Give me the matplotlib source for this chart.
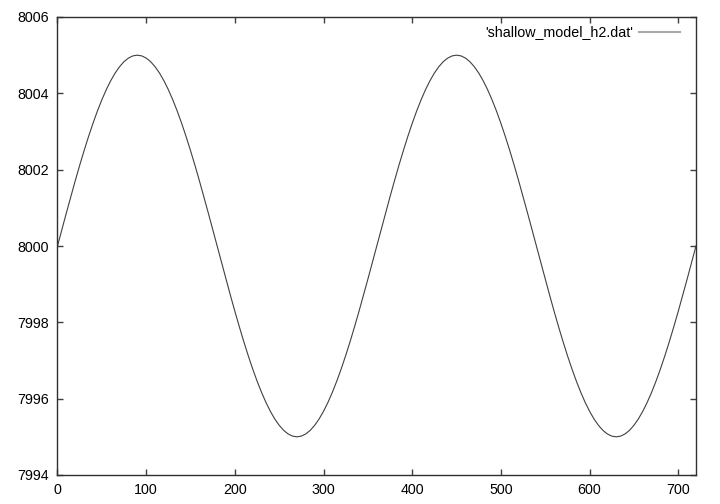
import matplotlib
matplotlib.use("Agg")
import matplotlib.pyplot as plt

# x in degrees, step 5
x = list(range(0, 725, 5))
y = [
    8000.000, 8000.436, 8000.868, 8001.294, 8001.710, 8002.113, 8002.500, 8002.868, 8003.214, 8003.536,
    8003.830, 8004.096, 8004.330, 8004.532, 8004.698, 8004.830, 8004.924, 8004.981, 8005.000,
    8004.981, 8004.924, 8004.830, 8004.698, 8004.532, 8004.330, 8004.096, 8003.830, 8003.536, 8003.214,
    8002.868, 8002.500, 8002.113, 8001.710, 8001.294, 8000.868, 8000.436, 8000.000,
    7999.564, 7999.132, 7998.706, 7998.290, 7997.887, 7997.500, 7997.132, 7996.786, 7996.464,
    7996.170, 7995.904, 7995.670, 7995.468, 7995.302, 7995.170, 7995.076, 7995.019, 7995.000,
    7995.019, 7995.076, 7995.170, 7995.302, 7995.468, 7995.670, 7995.904, 7996.170, 7996.464,
    7996.786, 7997.132, 7997.500, 7997.887, 7998.290, 7998.706, 7999.132, 7999.564, 8000.000,
    8000.436, 8000.868, 8001.294, 8001.710, 8002.113, 8002.500, 8002.868, 8003.214, 8003.536,
    8003.830, 8004.096, 8004.330, 8004.532, 8004.698, 8004.830, 8004.924, 8004.981, 8005.000,
    8004.981, 8004.924, 8004.830, 8004.698, 8004.532, 8004.330, 8004.096, 8003.830, 8003.536, 8003.214,
    8002.868, 8002.500, 8002.113, 8001.710, 8001.294, 8000.868, 8000.436, 8000.000,
    7999.564, 7999.132, 7998.706, 7998.290, 7997.887, 7997.500, 7997.132, 7996.786, 7996.464,
    7996.170, 7995.904, 7995.670, 7995.468, 7995.302, 7995.170, 7995.076, 7995.019, 7995.000,
    7995.019, 7995.076, 7995.170, 7995.302, 7995.468, 7995.670, 7995.904, 7996.170, 7996.464,
    7996.786, 7997.132, 7997.500, 7997.887, 7998.290, 7998.706, 7999.132, 7999.564, 8000.000,
]
label = "'shallow_model_h2.dat'"
xticks = [0, 100, 200, 300, 400, 500, 600, 700]
yticks = [7994, 7996, 7998, 8000, 8002, 8004, 8006]

plt.rcParams['font.family'] = ['Liberation Sans', 'DejaVu Sans']

fig = plt.figure(figsize=(7.2, 5.04), dpi=100)
ax = fig.add_axes([57.5 / 720, 29 / 504, (696 - 57.5) / 720, (475 - 17) / 504])

ax.plot(x, y, color='#404040', lw=0.8)
ax.set_xlim(0, 720)
ax.set_ylim(7994, 8006)
ax.set_xticks(xticks)
ax.set_yticks(yticks)
ax.tick_params(direction='in', top=True, right=True, length=4.5, width=1,
               color='#404040', labelsize=10.3, pad=6)
for s in ax.spines.values():
    s.set_color('#303030')
    s.set_linewidth(1)

# key in top right like gnuplot
ax.text(0.902, 0.967, label, transform=ax.transAxes, ha='right', va='center', fontsize=10.3)
ax.plot([0.91, 0.975], [0.967, 0.967], transform=ax.transAxes, color='#a8a8a8', lw=1.5)

fig.savefig('out.png', dpi=100)
